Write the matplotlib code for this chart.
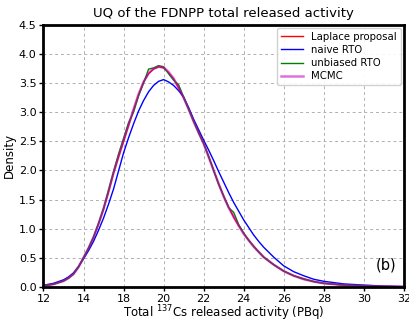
import numpy as np
import matplotlib
matplotlib.use("Agg")
import matplotlib.pyplot as plt

# ============================================================
# Densidades (eje x en PBq)
# ============================================================
x_grid = [14.0, 14.5, 15.0, 15.25, 15.5, 15.75, 16.0, 16.25, 16.5, 16.75, 17.0, 17.25,
          17.5, 17.75, 18.0, 18.25, 18.5, 18.75, 19.0, 19.25, 19.5, 19.75, 20.0, 20.25,
          20.5, 20.75, 21.0, 21.25, 21.5, 21.75, 22.0, 22.25, 22.5, 22.75, 23.0, 23.25,
          23.5, 23.75, 24.0, 24.25, 24.5, 24.75, 25.0, 25.5, 26.0, 26.5, 27.0, 27.5,
          28.0, 29.0, 30.0, 31.0, 32.0]

d_laplace = [0.02, 0.045, 0.10, 0.15, 0.22, 0.34, 0.50, 0.66, 0.85, 1.08, 1.33, 1.63,
             1.95, 2.23, 2.50, 2.77, 3.04, 3.30, 3.52, 3.66, 3.74, 3.78, 3.76, 3.68,
             3.57, 3.42, 3.25, 3.06, 2.85, 2.66, 2.47, 2.24, 2.00, 1.77, 1.56, 1.37,
             1.20, 1.05, 0.92, 0.80, 0.70, 0.60, 0.51, 0.38, 0.27, 0.19, 0.14, 0.09,
             0.06, 0.03, 0.015, 0.006, 0.002]

d_naive = [0.025, 0.06, 0.12, 0.17, 0.24, 0.35, 0.48, 0.62, 0.78, 0.97, 1.18, 1.42,
           1.68, 1.99, 2.30, 2.56, 2.80, 3.02, 3.20, 3.35, 3.46, 3.53, 3.56, 3.52,
           3.46, 3.37, 3.26, 3.08, 2.88, 2.70, 2.52, 2.35, 2.17, 1.98, 1.80, 1.62,
           1.45, 1.30, 1.15, 1.02, 0.89, 0.78, 0.68, 0.51, 0.36, 0.26, 0.19, 0.13,
           0.095, 0.05, 0.03, 0.012, 0.005]

d_unbiased = [0.02, 0.045, 0.10, 0.15, 0.22, 0.34, 0.50, 0.67, 0.86, 1.09, 1.35, 1.66,
              1.98, 2.28, 2.55, 2.82, 3.00, 3.28, 3.50, 3.74, 3.76, 3.80, 3.78, 3.66,
              3.55, 3.47, 3.26, 3.05, 2.84, 2.64, 2.46, 2.24, 2.00, 1.76, 1.56, 1.36,
              1.28, 1.07, 0.92, 0.80, 0.69, 0.60, 0.51, 0.38, 0.27, 0.19, 0.13, 0.09,
              0.06, 0.03, 0.015, 0.006, 0.002]

d_mcmc = [0.02, 0.045, 0.10, 0.15, 0.22, 0.34, 0.50, 0.66, 0.85, 1.08, 1.34, 1.64,
          1.96, 2.24, 2.51, 2.78, 3.05, 3.31, 3.52, 3.67, 3.75, 3.78, 3.77, 3.69,
          3.58, 3.42, 3.25, 3.05, 2.84, 2.65, 2.46, 2.23, 2.00, 1.77, 1.55, 1.36,
          1.20, 1.05, 0.91, 0.80, 0.69, 0.60, 0.51, 0.38, 0.27, 0.19, 0.13, 0.09,
          0.06, 0.03, 0.015, 0.006, 0.002]

# marcas del eje x tal como aparecen en la figura original
xtick_pos = [14, 16, 18, 20, 22, 24, 26, 28, 30, 32]
xtick_labels = ["12", "14", "18", "20", "22", "24", "26", "28", "30", "32"]
ytick_pos = [0.0, 0.5, 1.0, 1.5, 2.0, 2.5, 3.0, 3.5, 4.0, 4.5]

# ============================================================
# Grafico
# ============================================================
fig = plt.figure(figsize=(4.10, 3.23), dpi=100)
ax = fig.add_axes([0.106, 0.112, 0.879, 0.811])

ax.plot(x_grid, d_laplace, color="red", lw=1.0, label="Laplace proposal")
ax.plot(x_grid, d_naive, color="blue", lw=1.0, label="naive RTO")
ax.plot(x_grid, d_unbiased, color="green", lw=1.0, label="unbiased RTO")
ax.plot(x_grid, d_mcmc, color="m", lw=1.8, alpha=0.55, label="MCMC")

ax.set_xlim(14, 32)
ax.set_ylim(0, 4.5)
ax.set_xticks(xtick_pos)
ax.set_xticklabels(xtick_labels)
ax.set_yticks(ytick_pos)
ax.tick_params(labelsize=8, length=3, width=1, pad=2)
ax.grid(True, linestyle=(0, (3, 3)), color="#b0b0b0", linewidth=0.7)
for s in ax.spines.values():
    s.set_linewidth(2)

ax.set_xlabel("Total $^{137}$Cs released activity (PBq)", fontsize=8.5, labelpad=-0.5)
ax.set_ylabel("Density", fontsize=8.5, labelpad=2)
ax.set_title("UQ of the FDNPP total released activity", fontsize=9.5, pad=6)
ax.text(0.98, 0.085, "(b)", transform=ax.transAxes, fontsize=10.5,
        ha="right", va="center")

ax.legend(loc="upper right", fontsize=7.3, handlelength=2.2,
          borderaxespad=0.3, labelspacing=0.3, framealpha=0.9)

fig.savefig("out.png", dpi=100)
